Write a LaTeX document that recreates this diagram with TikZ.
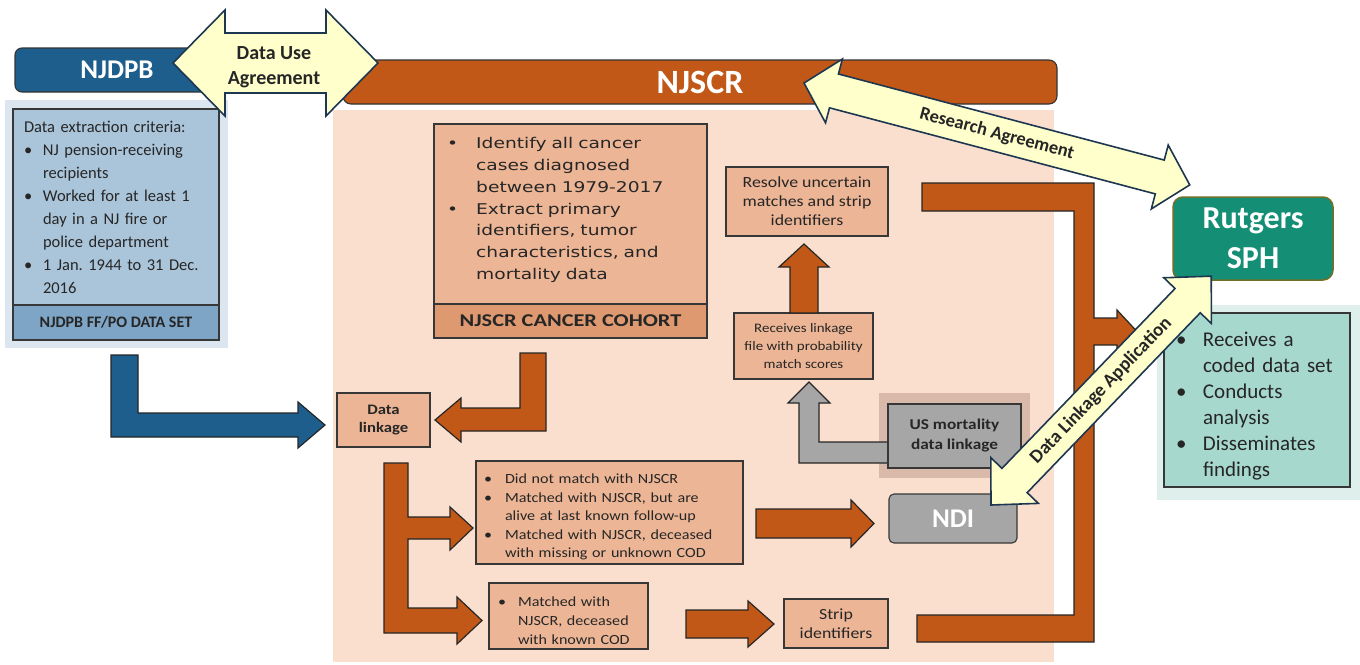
\documentclass[tikz,border=0pt]{standalone}
\usepackage{fontspec}
\setmainfont{Carlito}
\newfontfamily\wcal{Carlito}[FakeStretch=1.15]
\newfontfamily\cbody{DejaVu Sans}[FakeStretch=1.26]
\newfontfamily\ctitle{Carlito}[FakeStretch=1.24]
\usetikzlibrary{calc}

\definecolor{txt}{RGB}{38,38,38}
\definecolor{edge}{RGB}{55,55,55}
\definecolor{orng}{RGB}{193,88,23}
\definecolor{blu}{RGB}{29,94,141}
\definecolor{lbpanel}{RGB}{220,230,240}
\definecolor{lbbox}{RGB}{170,196,218}
\definecolor{lbband}{RGB}{126,165,197}
\definecolor{pinkp}{RGB}{250,222,206}
\definecolor{tanbox}{RGB}{236,181,149}
\definecolor{tanband}{RGB}{223,153,112}
\definecolor{shad}{RGB}{216,185,170}
\definecolor{gry}{RGB}{166,166,166}
\definecolor{grn}{RGB}{20,143,118}
\definecolor{olive}{RGB}{112,112,40}
\definecolor{tealp}{RGB}{223,239,235}
\definecolor{tealb}{RGB}{167,216,205}
\definecolor{yel}{RGB}{255,255,204}
\definecolor{yedge}{RGB}{30,55,80}

\newcommand\fs[2]{\fontsize{#1}{#2}\selectfont}
\newcommand\bitem[2][18pt]{\par\noindent\hangindent=#1\hangafter=1\makebox[#1][l]{\textbullet}{\let\\\newline #2}\par}

\begin{document}
\begin{tikzpicture}[x=1pt,y=-1pt,line join=miter,
  box/.style={draw=edge, line width=1.1pt, fill=tanbox, text=txt, inner sep=0pt, outer sep=0pt, anchor=north west},
  oarrow/.style={fill=orng, draw=black!85, line width=1.2pt},
  barrow/.style={fill=blu, draw=black!85, line width=1.2pt},
  garrow/.style={fill=gry, draw=black!85, line width=1.2pt},
  yarrow/.style={fill=yel, draw=yedge, line width=1.6pt},
  ylabel/.style={font=\bfseries\fs{19}{24}, text=txt, align=center, inner sep=0pt}]
\useasboundingbox (0,0) rectangle (1360,664);
\fill[white] (0,0) rectangle (1360,664);

% background panels
\fill[lbpanel] (5,100) rectangle (228,348);
\fill[pinkp] (333,110) rectangle (1054,662);
\fill[tealp] (1157,305) rectangle (1360,500);

% header bars
\node[box, fill=blu, draw=black!80, rounded corners=7pt, minimum width=204pt, minimum height=44pt, text=white, font=\bfseries\fs{27}{30}] (njdpb) at (15,48) {NJDPB};
\node[box, fill=orng, draw=black!80, rounded corners=8pt, minimum width=714pt, minimum height=44pt, text=white, font=\bfseries\fs{34}{40}] (njscr) at (343,60) {NJSCR};

% left data set
\node[box, fill=lbbox, minimum width=206pt, minimum height=196pt, text width=184pt, align=left, font=\fs{16.5}{23}] (crit) at (13,109)
 {Data extraction criteria:\par
  \bitem[19pt]{NJ pension-receiving\\recipients}
  \bitem[19pt]{Worked for at least 1\\day in a NJ fire or\\police department}
  \bitem[19pt]{1 Jan.\ 1944 to 31 Dec.\\2016}};
\node[box, fill=lbband, minimum width=206pt, minimum height=35pt, font=\bfseries\fs{16}{19}] (ffpo) at (13,305) {NJDPB FF/PO DATA SET};

% cohort
\node[box, minimum width=273pt, minimum height=180pt] (cohort) at (434,124) {};
\node[box, fill=tanband, minimum width=273pt, minimum height=34pt, font=\ctitle\bfseries\fs{18}{20}] (cband) at (434,304) {NJSCR CANCER COHORT};
\node[anchor=north west, inner sep=0pt, text width=255pt, align=left, text=txt, font=\cbody\fs{14.8}{21.7}] (ctext) at (447,127)
 {\bitem[29pt]{Identify all cancer\\cases diagnosed\\between 1979-2017}
  \bitem[29pt]{Extract primary\\identifiers, tumor\\characteristics, and\\mortality data}};

% boxes in NJSCR panel
\node[box, minimum width=162pt, minimum height=69pt, align=center, font=\wcal\fs{15.5}{19}] (resolve) at (726,167) {Resolve uncertain\\matches and strip\\identifiers};
\node[box, minimum width=139pt, minimum height=66pt, align=center, font=\wcal\fs{13}{18.3}] (recv) at (734,313) {Receives linkage\\file with probability\\match scores};
\node[box, minimum width=93pt, minimum height=54pt, align=center, font=\wcal\bfseries\fs{14.5}{18.3}] (link) at (337,393) {Data\\linkage};

\fill[shad] (879,393) rectangle (1030,478);
% gray arrow (US mortality -> receives)
\draw[garrow] (888,442) -- (819,442) -- (819,403) -- (830,403) -- (809,382) -- (788,403) -- (799,403) -- (799,463) -- (888,463) -- cycle;
\node[box, fill=gry, minimum width=133pt, minimum height=64pt, align=center, font=\wcal\bfseries\fs{15}{20}] (usm) at (888,404) {US mortality\\data linkage};
\node[box, fill=gry, rounded corners=5pt, minimum width=128pt, minimum height=49pt, text=white, font=\bfseries\fs{27}{30}] (ndi) at (889,494) {NDI};

\node[box, minimum width=267pt, minimum height=103pt, text width=251pt, align=left, font=\wcal\fs{14}{18.6}] (dnm) at (476,461)
 {\bitem[21pt]{Did not match with NJSCR}
  \bitem[21pt]{Matched with NJSCR, but are\\alive at last known follow-up}
  \bitem[21pt]{Matched with NJSCR, deceased\\with missing or unknown COD}};
\node[box, minimum width=159pt, minimum height=66pt, text width=141pt, align=left, font=\wcal\fs{14}{18.7}] (mkc) at (489,583)
 {\bitem[20pt]{Matched with\\NJSCR, deceased\\with known COD}};
\node[box, minimum width=104pt, minimum height=49pt, align=center, font=\wcal\fs{15.5}{19}] (strip) at (784,599) {Strip\\identifiers};

% Rutgers
\node[box, fill=grn, draw=olive, line width=1.5pt, rounded corners=10pt, minimum width=160pt, minimum height=83pt, align=center, text=white, font=\bfseries\fs{32}{40}] (rutgers) at (1173,197) {Rutgers\\SPH};
\node[box, fill=tealb, minimum width=186pt, minimum height=174pt, text width=162pt, align=left, font=\fs{21}{26}] (find) at (1164,313)
 {\bitem[27pt]{Receives a\\coded data set}
  \bitem[27pt]{Conducts\\analysis}
  \bitem[27pt]{Disseminates\\findings}};

% block arrows
\draw[barrow] (111,355) -- (138,355) -- (138,413) -- (298,413) -- (298,402) -- (325,425) -- (298,448) -- (298,437) -- (111,437) -- cycle;
\draw[oarrow] (520,353) -- (546,353) -- (546,431) -- (461,431) -- (461,442) -- (435,420) -- (461,398) -- (461,408) -- (520,408) -- cycle;
\draw[oarrow] (384,463) -- (408,463) -- (408,517) -- (450,517) -- (450,507) -- (473,528) -- (450,550) -- (450,539) -- (408,539) -- (408,608) -- (457,608) -- (457,597) -- (482,620.5) -- (457,644) -- (457,633) -- (384,633) -- cycle;
\draw[oarrow] (756,509) -- (851,509) -- (851,500) -- (874,523.5) -- (851,547) -- (851,538) -- (756,538) -- cycle;
\draw[oarrow] (686,610) -- (748,610) -- (748,601) -- (774,624) -- (748,647) -- (748,638) -- (686,638) -- cycle;
\draw[oarrow] (790,313) -- (790,267) -- (779,267) -- (804,244) -- (829,267) -- (818,267) -- (818,313) -- cycle;
\draw[oarrow] (922,183) -- (1094,183) -- (1094,318) -- (1117,318) -- (1117,310) -- (1137,331.5) -- (1117,353) -- (1117,345) -- (1094,345) -- (1094,642) -- (917,642) -- (917,615) -- (1074,615) -- (1074,211) -- (922,211) -- cycle;

% yellow agreement arrows
\begin{scope}[shift={(173,63)}]
\draw[yarrow] (0,0) -- (52,-53) -- (52,-30) -- (153,-30) -- (153,-53) -- (205,0) -- (153,53) -- (153,30) -- (52,30) -- (52,53) -- cycle;
\node[ylabel, font=\bfseries\fs{20}{25}] (dua) at (101,4) {Data Use\\Agreement};
\end{scope}
\begin{scope}[shift={(804,83)}, rotate=-14.8]
\draw[yarrow] (0,0) -- (31,-33) -- (31,-17.5) -- (368,-17.5) -- (368,-33) -- (399,0) -- (368,33) -- (368,17.5) -- (31,17.5) -- (31,33) -- cycle;
\node[ylabel, rotate=-14.8, font=\bfseries\fs{18.5}{20}] (ra) at (199.5,0) {Research Agreement};
\end{scope}
\begin{scope}[shift={(991,505)}, rotate=46.1]
\draw[yarrow] (0,0) -- (34,-33) -- (34,-17.5) -- (283.6,-17.5) -- (283.6,-33) -- (317.6,0) -- (283.6,33) -- (283.6,17.5) -- (34,17.5) -- (34,33) -- cycle;
\node[ylabel, rotate=46.1, font=\bfseries\fs{19}{20}] (dla) at (158.8,0) {Data Linkage Application};
\end{scope}
\end{tikzpicture}
\end{document}
